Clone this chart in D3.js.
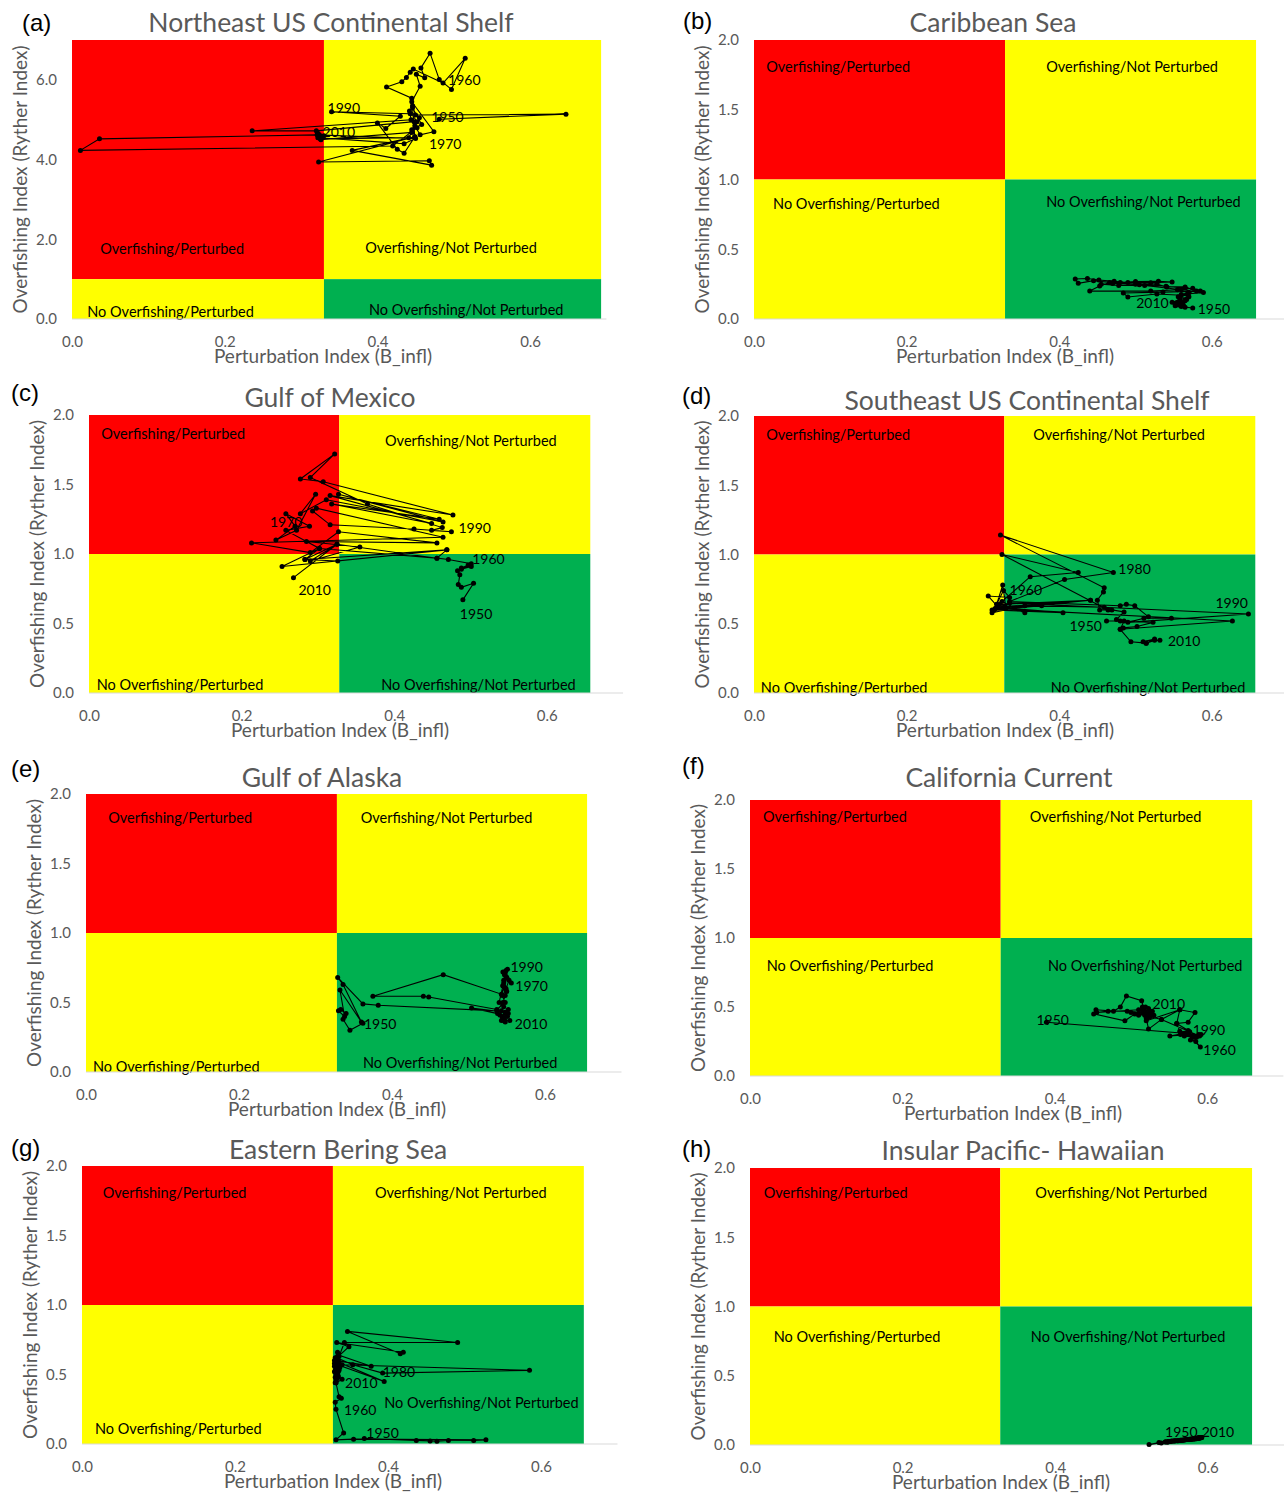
<!DOCTYPE html>
<html><head><meta charset="utf-8">
<script src="https://cdn.jsdelivr.net/npm/d3@7"></script>
<style>
body { margin: 0; background: #fff; }
text { font-family: Lato, "Open Sans", sans-serif; }
</style>
</head>
<body><svg id="chart" width="1284" height="1493"></svg>
<script>

// ---- data ----
var letters = ["(a)", "(b)", "(c)", "(d)", "(e)", "(f)", "(g)", "(h)"];
var titles = ["Northeast US Continental Shelf", "Caribbean Sea", "Gulf of Mexico",
  "Southeast US Continental Shelf", "Gulf of Alaska", "California Current",
  "Eastern Bering Sea", "Insular Pacific- Hawaiian"];
var quadNames = ["Overfishing/Perturbed", "Overfishing/Not Perturbed",
  "No Overfishing/Perturbed", "No Overfishing/Not Perturbed"];
var xTicks = [0, 0.2, 0.4, 0.6];
var yTicksNE = [0, 2, 4, 6];
var yTicks = [0, 0.5, 1, 1.5, 2];
var firstYear = 1950;

// [perturbation index, overfishing index], one per year from 1950
var neusPts = [[0.481,5.01],[0.647,5.14],[0.450,5.12],[0.446,5.35],[0.445,5.54],[0.412,5.82],[0.432,5.95],[0.438,6.06],[0.443,6.19],[0.447,6.27],
  [0.486,5.92],[0.515,6.54],[0.497,5.76],[0.481,6.01],[0.469,6.67],[0.457,6.30],[0.462,6.05],[0.451,6.14],[0.456,5.84],[0.445,5.45],
  [0.474,4.70],[0.456,4.62],[0.449,4.85],[0.455,5.05],[0.442,5.22],[0.452,4.95],[0.445,4.75],[0.458,4.88],[0.446,5.30],[0.449,4.57],
  [0.323,3.94],[0.468,3.97],[0.471,3.86],[0.367,4.23],[0.449,4.57],[0.435,4.16],[0.426,4.26],[0.400,4.92],[0.411,4.78],[0.430,5.09],
  [0.340,5.20],[0.443,5.15],[0.444,5.00],[0.236,4.72],[0.320,4.72],[0.448,4.95],[0.452,4.80],[0.420,4.34],[0.011,4.23],[0.036,4.52],
  [0.321,4.62],[0.450,4.53],[0.435,4.40],[0.322,4.55],[0.326,4.50],[0.445,4.68],[0.441,4.55],[0.325,4.52],[0.330,4.60],[0.322,4.66],
  [0.323,4.57],[0.327,4.55],[0.324,4.62],[0.328,4.58]];
var caribPts = [[0.575,0.079],[0.565,0.085],[0.560,0.090],[0.552,0.095],[0.560,0.12],[0.567,0.14],[0.556,0.16],[0.568,0.18],[0.589,0.19],[0.580,0.20],
  [0.565,0.23],[0.541,0.23],[0.528,0.25],[0.500,0.25],[0.470,0.26],[0.445,0.275],[0.425,0.256],[0.421,0.287],[0.437,0.29],[0.452,0.28],
  [0.472,0.27],[0.490,0.262],[0.520,0.26],[0.548,0.265],[0.530,0.27],[0.500,0.268],[0.480,0.262],[0.466,0.262],[0.453,0.236],[0.440,0.20],
  [0.520,0.20],[0.555,0.21],[0.570,0.19],[0.560,0.17],[0.528,0.179],[0.490,0.158],[0.484,0.186],[0.536,0.193],[0.585,0.20],[0.575,0.22],
  [0.560,0.21],[0.512,0.24],[0.478,0.24],[0.455,0.25],[0.470,0.255],[0.505,0.245],[0.540,0.235],[0.565,0.22],[0.570,0.19],[0.560,0.175],
  [0.570,0.16],[0.558,0.145],[0.565,0.13],[0.555,0.12],[0.562,0.11],[0.556,0.10],[0.563,0.095],[0.558,0.11],[0.548,0.12],[0.553,0.115],
  [0.552,0.11]];
var gomPts = [[0.490,0.67],[0.504,0.79],[0.488,0.76],[0.484,0.78],[0.486,0.85],[0.483,0.88],[0.488,0.89],[0.501,0.91],[0.488,0.90],[0.497,0.92],
  [0.501,0.93],[0.471,0.96],[0.456,0.97],[0.469,1.03],[0.326,0.95],[0.283,0.96],[0.302,1.04],[0.258,1.17],[0.289,1.20],[0.258,1.29],
  [0.270,1.20],[0.245,1.10],[0.272,1.17],[0.297,1.43],[0.277,1.29],[0.311,1.39],[0.464,1.23],[0.327,1.43],[0.459,1.25],[0.318,1.36],
  [0.449,1.22],[0.316,1.42],[0.477,1.28],[0.307,1.52],[0.277,1.54],[0.322,1.72],[0.290,1.55],[0.365,1.36],[0.463,1.19],[0.449,1.17],
  [0.475,1.16],[0.426,1.18],[0.316,1.21],[0.293,1.31],[0.298,1.33],[0.464,1.12],[0.213,1.08],[0.290,1.01],[0.327,1.16],[0.456,1.08],
  [0.285,1.09],[0.355,1.05],[0.290,0.95],[0.325,1.07],[0.456,0.97],[0.302,1.04],[0.253,0.91],[0.469,1.03],[0.283,0.96],[0.325,1.07],
  [0.268,0.83]];
var seusPts = [[0.462,0.52],[0.480,0.52],[0.475,0.53],[0.485,0.585],[0.469,0.60],[0.459,0.62],[0.355,0.63],[0.312,0.58],[0.320,0.62],[0.307,0.70],
  [0.335,0.69],[0.327,0.74],[0.318,0.64],[0.326,0.78],[0.330,0.62],[0.377,0.63],[0.315,0.60],[0.441,0.67],[0.322,0.64],[0.355,0.58],
  [0.325,0.66],[0.362,0.84],[0.425,0.87],[0.325,1.00],[0.464,0.60],[0.453,0.60],[0.450,0.67],[0.458,0.73],[0.459,0.76],[0.323,1.14],
  [0.471,0.87],[0.407,0.82],[0.335,0.66],[0.480,0.63],[0.488,0.64],[0.499,0.63],[0.517,0.55],[0.547,0.54],[0.511,0.54],[0.490,0.51],
  [0.648,0.57],[0.335,0.65],[0.312,0.60],[0.405,0.58],[0.318,0.62],[0.441,0.67],[0.316,0.61],[0.627,0.52],[0.480,0.46],[0.484,0.47],
  [0.502,0.48],[0.523,0.51],[0.485,0.52],[0.480,0.46],[0.494,0.37],[0.514,0.36],[0.510,0.37],[0.525,0.39],[0.514,0.36],[0.525,0.38],
  [0.532,0.38]];
var goaPts = [[0.362,0.35],[0.345,0.30],[0.336,0.38],[0.340,0.42],[0.333,0.45],[0.330,0.44],[0.338,0.40],[0.332,0.59],[0.360,0.36],[0.336,0.63],
  [0.329,0.68],[0.362,0.49],[0.382,0.48],[0.537,0.44],[0.545,0.50],[0.548,0.55],[0.550,0.58],[0.545,0.62],[0.549,0.60],[0.553,0.66],
  [0.556,0.64],[0.548,0.70],[0.545,0.72],[0.550,0.68],[0.547,0.61],[0.543,0.56],[0.467,0.70],[0.375,0.545],[0.441,0.545],[0.448,0.54],
  [0.537,0.45],[0.548,0.50],[0.544,0.55],[0.549,0.59],[0.546,0.64],[0.550,0.68],[0.547,0.70],[0.548,0.72],[0.546,0.66],[0.549,0.73],
  [0.551,0.74],[0.545,0.62],[0.540,0.50],[0.546,0.47],[0.543,0.44],[0.548,0.42],[0.552,0.45],[0.544,0.40],[0.538,0.42],[0.504,0.46],
  [0.548,0.43],[0.545,0.39],[0.541,0.41],[0.547,0.38],[0.551,0.40],[0.543,0.37],[0.548,0.36],[0.545,0.39],[0.552,0.42],[0.546,0.37],
  [0.554,0.37]];
var ccPts = [[0.389,0.39],[0.570,0.31],[0.551,0.29],[0.575,0.30],[0.586,0.28],[0.565,0.30],[0.580,0.29],[0.592,0.30],[0.578,0.26],[0.585,0.25],
  [0.591,0.21],[0.575,0.30],[0.564,0.325],[0.560,0.38],[0.575,0.39],[0.584,0.46],[0.564,0.48],[0.540,0.41],[0.523,0.34],[0.520,0.42],
  [0.514,0.545],[0.494,0.58],[0.486,0.50],[0.477,0.47],[0.454,0.48],[0.451,0.45],[0.492,0.40],[0.505,0.45],[0.515,0.46],[0.525,0.43],
  [0.520,0.40],[0.564,0.48],[0.560,0.38],[0.575,0.33],[0.566,0.31],[0.589,0.30],[0.570,0.29],[0.583,0.28],[0.572,0.31],[0.590,0.29],
  [0.577,0.32],[0.540,0.41],[0.518,0.44],[0.500,0.46],[0.510,0.44],[0.525,0.45],[0.495,0.47],[0.470,0.47],[0.455,0.46],[0.510,0.48],
  [0.528,0.47],[0.515,0.50],[0.521,0.42],[0.530,0.44],[0.518,0.47],[0.524,0.45],[0.515,0.48],[0.527,0.46],[0.519,0.50],[0.525,0.47],
  [0.523,0.49]];
var ebsPts = [[0.369,0.04],[0.437,0.025],[0.455,0.022],[0.464,0.02],[0.479,0.025],[0.512,0.025],[0.528,0.03],[0.355,0.035],[0.332,0.03],[0.342,0.08],
  [0.332,0.25],[0.331,0.30],[0.339,0.33],[0.336,0.34],[0.332,0.44],[0.335,0.48],[0.330,0.52],[0.333,0.55],[0.331,0.60],[0.334,0.58],
  [0.336,0.63],[0.343,0.73],[0.491,0.73],[0.347,0.81],[0.416,0.65],[0.420,0.66],[0.333,0.73],[0.349,0.70],[0.333,0.62],[0.354,0.57],
  [0.393,0.51],[0.585,0.53],[0.340,0.57],[0.332,0.60],[0.378,0.56],[0.335,0.64],[0.330,0.58],[0.337,0.55],[0.331,0.62],[0.334,0.66],
  [0.330,0.60],[0.395,0.45],[0.334,0.57],[0.331,0.53],[0.336,0.59],[0.332,0.55],[0.333,0.62],[0.330,0.56],[0.335,0.52],[0.331,0.58],
  [0.334,0.54],[0.332,0.50],[0.336,0.53],[0.331,0.48],[0.334,0.50],[0.332,0.46],[0.335,0.49],[0.331,0.44],[0.333,0.47],[0.332,0.44],
  [0.340,0.465]];
var hawaiiPts = [[0.548,0.025],[0.523,0.003],[0.536,0.018],[0.544,0.022],[0.539,0.015],[0.547,0.020],[0.553,0.028],[0.545,0.024],[0.551,0.026],[0.557,0.030],
  [0.552,0.027],[0.548,0.023],[0.556,0.029],[0.561,0.031],[0.555,0.028],[0.563,0.033],[0.558,0.030],[0.565,0.034],[0.560,0.031],[0.567,0.035],
  [0.562,0.033],[0.569,0.036],[0.564,0.034],[0.571,0.038],[0.566,0.035],[0.573,0.039],[0.568,0.037],[0.575,0.040],[0.570,0.038],[0.577,0.041],
  [0.572,0.039],[0.578,0.042],[0.574,0.040],[0.580,0.043],[0.576,0.041],[0.582,0.044],[0.578,0.042],[0.583,0.045],[0.579,0.043],[0.585,0.046],
  [0.581,0.044],[0.586,0.047],[0.582,0.045],[0.587,0.048],[0.584,0.046],[0.588,0.049],[0.585,0.047],[0.589,0.050],[0.586,0.048],[0.590,0.051],
  [0.587,0.049],[0.591,0.052],[0.588,0.050],[0.590,0.053],[0.586,0.051],[0.592,0.054],[0.589,0.052],[0.591,0.055],[0.588,0.053],[0.590,0.054],
  [0.592,0.055]];

var series = [neusPts, caribPts, gomPts, seusPts, goaPts, ccPts, ebsPts, hawaiiPts];
var labelYears = [[1950,1960,1970,1990,2010], [1950,2010], [1950,1960,1970,1990,2010],
  [1950,1960,1980,1990,2010], [1950,1970,1990,2010], [1950,1960,1990,2010],
  [1950,1960,1980,2010], [1950,2010]];

// ---- layout (pixels) ----
var layout = [
  {x0:72,  y0:319,  yTop:40,   kx:763.5, ymax:7, thr:0.330, right:0.693, tx:331,  ty:22,   lx:22,  ly:22,   xt:251,
   quad:[[0.037,1.78],[0.384,1.80],[0.020,0.20],[0.389,0.25]],
   off:{1950:[-8,-3],1960:[5,-4],1970:[-5,12],1990:[-4,-4],2010:[4,-5]}},
  {x0:754, y0:319,  yTop:40,   kx:763,   ymax:2, thr:0.329, right:0.658, tx:993,  ty:22,   lx:683, ly:20,   xt:251,
   quad:[[0.016,1.81],[0.383,1.81],[0.025,0.83],[0.383,0.84]],
   off:{1950:[5,1],2010:[-39,-1]}},
  {x0:89,  y0:693,  yTop:415,  kx:763,   ymax:2, thr:0.328, right:0.657, tx:330,  ty:397,  lx:11,  ly:392,  xt:251,
   quad:[[0.016,1.87],[0.388,1.82],[0.010,0.06],[0.383,0.06]],
   off:{1950:[-3,14],1960:[1,-5],1970:[-25,-5],1990:[7,-4],2010:[5,12]}},
  {x0:754, y0:693,  yTop:416,  kx:763,   ymax:2, thr:0.328, right:0.657, tx:1027, ty:400,  lx:682, ly:395,  xt:251,
   quad:[[0.016,1.87],[0.366,1.87],[0.009,0.04],[0.389,0.04]],
   off:{1950:[-37,5],1960:[0,-8],1980:[5,-4],1990:[-33,-12],2010:[8,0]}},
  {x0:86,  y0:1072, yTop:794,  kx:765,   ymax:2, thr:0.328, right:0.655, tx:322,  ty:777,  lx:11,  ly:768,  xt:251,
   quad:[[0.029,1.83],[0.359,1.83],[0.009,0.04],[0.362,0.065]],
   off:{1950:[1,0],1970:[4,2],1990:[3,-3],2010:[5,3]}},
  {x0:750, y0:1076, yTop:800,  kx:762,   ymax:2, thr:0.329, right:0.659, tx:1009, ty:777,  lx:682, ly:765,  xt:263,
   quad:[[0.017,1.88],[0.367,1.88],[0.022,0.80],[0.391,0.80]],
   off:{1950:[-10,-3],1960:[3,2],1990:[3,-2],2010:[4,-5]}},
  {x0:82,  y0:1444, yTop:1166, kx:765,   ymax:2, thr:0.328, right:0.656, tx:338,  ty:1149, lx:11,  ly:1147, xt:251,
   quad:[[0.027,1.81],[0.383,1.81],[0.017,0.115],[0.395,0.295]],
   off:{1950:[2,-6],1960:[8,0],1980:[0,-2],2010:[3,3]}},
  {x0:750, y0:1445, yTop:1168, kx:763,   ymax:2, thr:0.328, right:0.658, tx:1023, ty:1150, lx:682, ly:1148, xt:251,
   quad:[[0.018,1.82],[0.374,1.82],[0.031,0.78],[0.368,0.78]],
   off:{1950:[-3,-10],2010:[0,-6]}}
];

var grey = "#595959";
var svg = d3.select("#chart");

series.forEach(function(pts, i) {
  var L = layout[i];
  var x = d3.scaleLinear().domain([0, 1]).range([L.x0, L.x0 + L.kx]);
  var y = d3.scaleLinear().domain([0, L.ymax]).range([L.y0, L.yTop]);
  var g = svg.append("g").attr("class", "panel");

  var quads = [
    {x1: 0, x2: L.thr, y1: 1, y2: L.ymax, fill: "#ff0000"},
    {x1: L.thr, x2: L.right, y1: 1, y2: L.ymax, fill: "#ffff00"},
    {x1: 0, x2: L.thr, y1: 0, y2: 1, fill: "#ffff00"},
    {x1: L.thr, x2: L.right, y1: 0, y2: 1, fill: "#00b050"}];

  g.selectAll("rect.quad").data(quads).enter().append("rect")
    .attr("class", "quad")
    .attr("x", function(d) { return x(d.x1); })
    .attr("y", function(d) { return y(d.y2); })
    .attr("width", function(d) { return x(d.x2) - x(d.x1); })
    .attr("height", function(d) { return y(d.y1) - y(d.y2); })
    .attr("fill", function(d) { return d.fill; });

  g.selectAll("text.quadlabel").data(L.quad).enter().append("text")
    .attr("class", "quadlabel")
    .attr("x", function(d) { return x(d[0]); })
    .attr("y", function(d) { return y(d[1]); })
    .attr("dominant-baseline", "central")
    .style("font-size", "14.5px")
    .attr("fill", "#000")
    .text(function(d, k) { return quadNames[k]; });

  // x axis line
  g.append("line")
    .attr("x1", x(0)).attr("x2", x(0.7))
    .attr("y1", L.y0).attr("y2", L.y0)
    .attr("stroke", "#d9d9d9").attr("stroke-width", 1);

  var xa = d3.axisBottom(x).tickValues(xTicks).tickSize(0).tickPadding(17).tickFormat(d3.format(".1f"));
  g.append("g").attr("transform", "translate(0," + L.y0 + ")").call(xa)
    .attr("font-family", null).attr("font-size", null).attr("color", grey)
    .call(function(s) { s.select(".domain").remove(); })
    .selectAll("text").style("font-size", "15px");

  var ya = d3.axisLeft(y).tickValues(i == 0 ? yTicksNE : yTicks).tickSize(0).tickPadding(15).tickFormat(d3.format(".1f"));
  g.append("g").attr("transform", "translate(" + L.x0 + ",0)").call(ya)
    .attr("font-family", null).attr("font-size", null).attr("color", grey)
    .call(function(s) { s.select(".domain").remove(); })
    .selectAll("text").style("font-size", "15px");

  // axis titles
  g.append("text")
    .attr("x", L.x0 + L.xt).attr("y", L.y0 + 36)
    .attr("text-anchor", "middle").attr("dominant-baseline", "central")
    .attr("fill", grey).style("font-size", "19px")
    .text("Perturbation Index (B_infl)");

  g.append("text")
    .attr("transform", "translate(" + (L.x0 - 53) + "," + ((L.y0 + L.yTop) / 2) + ") rotate(-90)")
    .attr("text-anchor", "middle").attr("dominant-baseline", "central")
    .attr("fill", grey).style("font-size", "19px")
    .text("Overfishing Index (Ryther Index)");

  // title + panel letter
  g.append("text")
    .attr("x", L.tx).attr("y", L.ty)
    .attr("text-anchor", "middle").attr("dominant-baseline", "central")
    .attr("fill", grey).style("font-size", "26.5px")
    .text(titles[i]);

  g.append("text")
    .attr("x", L.lx).attr("y", L.ly)
    .attr("dominant-baseline", "central")
    .attr("fill", "#000").style("font-size", "24px")
    .style("font-family", "'Liberation Sans', Arial, sans-serif")
    .text(letters[i]);

  // trajectory
  var line = d3.line()
    .x(function(d) { return x(d[0]); })
    .y(function(d) { return y(d[1]); });

  g.append("path").datum(pts)
    .attr("d", line)
    .attr("fill", "none")
    .attr("stroke", "#000")
    .attr("stroke-width", 1.1);

  g.selectAll("circle.pt").data(pts).enter().append("circle")
    .attr("class", "pt")
    .attr("cx", function(d) { return x(d[0]); })
    .attr("cy", function(d) { return y(d[1]); })
    .attr("r", 2.5)
    .attr("fill", "#000");

  g.selectAll("text.year").data(labelYears[i]).enter().append("text")
    .attr("class", "year")
    .attr("x", function(d) { return x(pts[d - firstYear][0]) + L.off[d][0]; })
    .attr("y", function(d) { return y(pts[d - firstYear][1]) + L.off[d][1]; })
    .attr("dominant-baseline", "central")
    .attr("fill", "#000")
    .style("font-size", "14px")
    .text(function(d) { return d; });
});

</script>
</body></html>
